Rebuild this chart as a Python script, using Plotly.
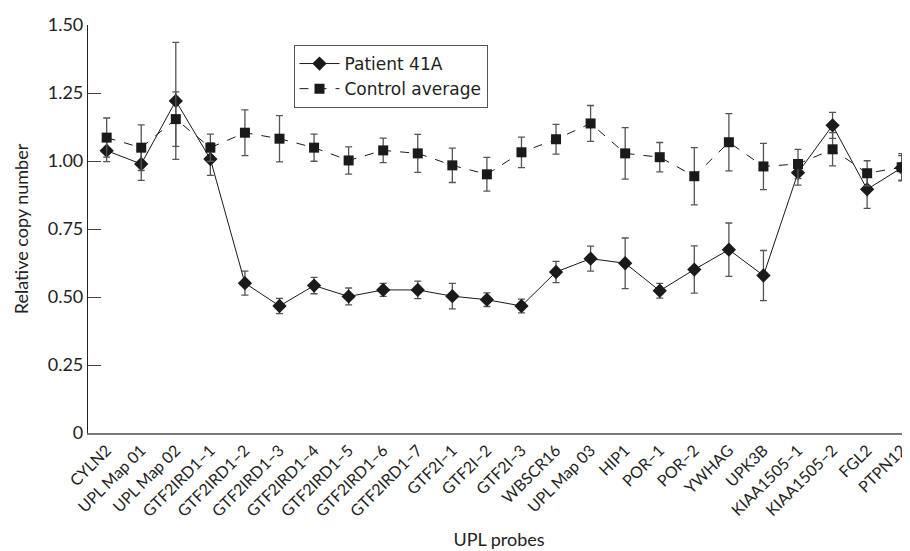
import plotly.graph_objects as go

probes = ["CYLN2", "UPL Map 01", "UPL Map 02", "GTF2IRD1–1", "GTF2IRD1–2", "GTF2IRD1–3",
          "GTF2IRD1–4", "GTF2IRD1–5", "GTF2IRD1–6", "GTF2IRD1–7", "GTF2I–1", "GTF2I–2",
          "GTF2I–3", "WBSCR16", "UPL Map 03", "HIP1", "POR–1", "POR–2", "YWHAG", "UPK3B",
          "KIAA1505–1", "KIAA1505–2", "FGL2", "PTPN12"]

patient_41a = [1.038, 0.989, 1.221, 1.007, 0.551, 0.467, 0.542, 0.502, 0.526, 0.526, 0.503, 0.490,
               0.467, 0.592, 0.641, 0.624, 0.523, 0.601, 0.674, 0.579, 0.957, 1.131, 0.896, 0.975]
patient_err = [0.040, 0.060, 0.215, 0.060, 0.044, 0.028, 0.030, 0.031, 0.024, 0.032, 0.047, 0.025,
               0.025, 0.039, 0.046, 0.093, 0.027, 0.087, 0.098, 0.092, 0.046, 0.048, 0.070, 0.045]

control_avg = [1.086, 1.049, 1.154, 1.049, 1.104, 1.082, 1.049, 1.002, 1.039, 1.028, 0.984, 0.951,
               1.032, 1.080, 1.138, 1.028, 1.014, 0.944, 1.069, 0.980, 0.989, 1.043, 0.955, 0.977]
control_err = [0.072, 0.084, 0.100, 0.050, 0.084, 0.085, 0.050, 0.050, 0.045, 0.070, 0.063, 0.062,
               0.056, 0.055, 0.066, 0.095, 0.054, 0.105, 0.105, 0.085, 0.054, 0.061, 0.046, 0.050]

y_ticks = [0, 0.25, 0.5, 0.75, 1.0, 1.25, 1.5]
y_tick_text = ["0", "0.25", "0.50", "0.75", "1.00", "1.25", "1.50"]

FONT = "Lato, 'Noto Sans', sans-serif"

fig = go.Figure()
fig.add_trace(go.Scatter(
    x=probes, y=patient_41a, name="Patient 41A", mode="lines+markers",
    line=dict(color="#1a1a1a", width=1),
    marker=dict(symbol="diamond", size=11, color="#1a1a1a"),
    error_y=dict(type="data", array=patient_err, visible=True, color="#555555", thickness=1.3, width=3.5),
))
fig.add_trace(go.Scatter(
    x=probes, y=control_avg, name="Control average", mode="lines+markers",
    line=dict(color="#1a1a1a", width=1, dash="dash"),
    marker=dict(symbol="square", size=10, color="#1a1a1a"),
    error_y=dict(type="data", array=control_err, visible=True, color="#555555", thickness=1.3, width=3.5),
))

fig.update_layout(
    width=902, height=543,
    margin=dict(l=80, r=0, t=17, b=118, autoexpand=False),
    paper_bgcolor="white", plot_bgcolor="white",
    font=dict(family=FONT, size=16, color="#222222"),
    showlegend=True,
    legend=dict(x=0.25, y=0.951, xanchor="left", yanchor="top",
                bordercolor="#555555", borderwidth=1, bgcolor="white",
                font=dict(size=17, family="'DejaVu Sans', sans-serif"),
                tracegroupgap=0, itemwidth=40),
    xaxis=dict(
        type="category", range=[-0.54, 23.24],
        showline=True, linecolor="#777777", linewidth=1.5,
        ticks="", tickangle=-45, tickfont=dict(size=16),
        showgrid=False, zeroline=False, automargin=False,
        title=dict(text="UPL probes", font=dict(size=18), standoff=14),
    ),
    yaxis=dict(
        range=[0, 1.5], tickvals=y_ticks, ticktext=y_tick_text,
        showline=True, linecolor="#222222", linewidth=1.2,
        ticks="inside", ticklen=13, tickcolor="#444444", tickwidth=1,
        tickfont=dict(size=18),
        showgrid=False, zeroline=False, automargin=False,
        title=dict(text="Relative copy number", font=dict(size=18), standoff=14),
    ),
)

fig.write_html("out.html")
